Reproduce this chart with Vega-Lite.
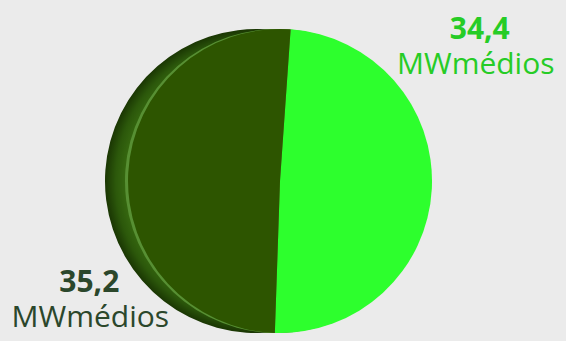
{
  "$schema": "https://vega.github.io/schema/vega-lite/v6.json",
  "width": 566,
  "height": 341,
  "autosize": {"type": "fit", "contains": "padding"},
  "padding": {"top": 7, "left": 0, "right": 0, "bottom": 0},
  "background": "#ebebeb",
  "config": {"view": {"stroke": null}},
  "data": {"values": [
    {"serie": "a", "v": 34.4, "rotulo": "34,4", "unidade": "MWmédios"},
    {"serie": "b", "v": 35.2, "rotulo": "35,2", "unidade": "MWmédios"}
  ]},
  "layer": [
    {
      "mark": {"type": "arc", "radius": 152, "xOffset": -23,
        "color": {"gradient": "radial", "x1": 0.5, "y1": 0.5, "r1": 0, "x2": 0.5, "y2": 0.5, "r2": 0.5,
          "stops": [{"offset": 0, "color": "#3a6e12"}, {"offset": 0.84, "color": "#3a6e12"}, {"offset": 0.93, "color": "#2c580b"}, {"offset": 1, "color": "#1a3603"}]}},
      "encoding": {
        "theta": {"aggregate": "sum", "field": "v", "type": "quantitative", "stack": true, "scale": {"range": [0.07, 6.3532]}}
      }
    },
    {
      "mark": {"type": "arc", "radius": 152, "xOffset": -3, "color": "#578f33"},
      "encoding": {
        "theta": {"aggregate": "sum", "field": "v", "type": "quantitative", "stack": true, "scale": {"range": [0.07, 6.3532]}}
      }
    },
    {
      "mark": {"type": "arc", "radius": 152},
      "encoding": {
        "theta": {"field": "v", "type": "quantitative", "stack": true, "scale": {"range": [0.07, 6.3532]}},
        "color": {"field": "serie", "type": "nominal", "scale": {"domain": ["a", "b"], "range": ["#2dff2d", "#2d5500"]}, "legend": null}
      }
    },
    {
      "mark": {"type": "text", "radius": 200, "dx": 0, "dy": -152, "font": "Open Sans", "fontSize": 30, "fontWeight": "bold", "color": "#26cc26", "baseline": "alphabetic"},
      "encoding": {
        "theta": {"field": "v", "type": "quantitative", "stack": true},
        "detail": {"field": "serie"},
        "text": {"field": "rotulo"},
        "opacity": {"condition": {"test": "datum.serie === 'a'", "value": 1}, "value": 0}
      }
    },
    {
      "mark": {"type": "text", "radius": 200, "dx": -4, "dy": -117, "font": "Open Sans", "fontSize": 30, "color": "#26cc26", "baseline": "alphabetic"},
      "encoding": {
        "theta": {"field": "v", "type": "quantitative", "stack": true},
        "detail": {"field": "serie"},
        "text": {"field": "unidade"},
        "opacity": {"condition": {"test": "datum.serie === 'a'", "value": 1}, "value": 0}
      }
    },
    {
      "mark": {"type": "text", "radius": 200, "dx": 9, "dy": 121, "font": "Open Sans", "fontSize": 30, "fontWeight": "bold", "color": "#2b472b", "baseline": "alphabetic"},
      "encoding": {
        "theta": {"field": "v", "type": "quantitative", "stack": true},
        "detail": {"field": "serie"},
        "text": {"field": "rotulo"},
        "opacity": {"condition": {"test": "datum.serie === 'b'", "value": 1}, "value": 0}
      }
    },
    {
      "mark": {"type": "text", "radius": 200, "dx": 10, "dy": 156, "font": "Open Sans", "fontSize": 30, "color": "#2b472b", "baseline": "alphabetic"},
      "encoding": {
        "theta": {"field": "v", "type": "quantitative", "stack": true},
        "detail": {"field": "serie"},
        "text": {"field": "unidade"},
        "opacity": {"condition": {"test": "datum.serie === 'b'", "value": 1}, "value": 0}
      }
    }
  ]
}
